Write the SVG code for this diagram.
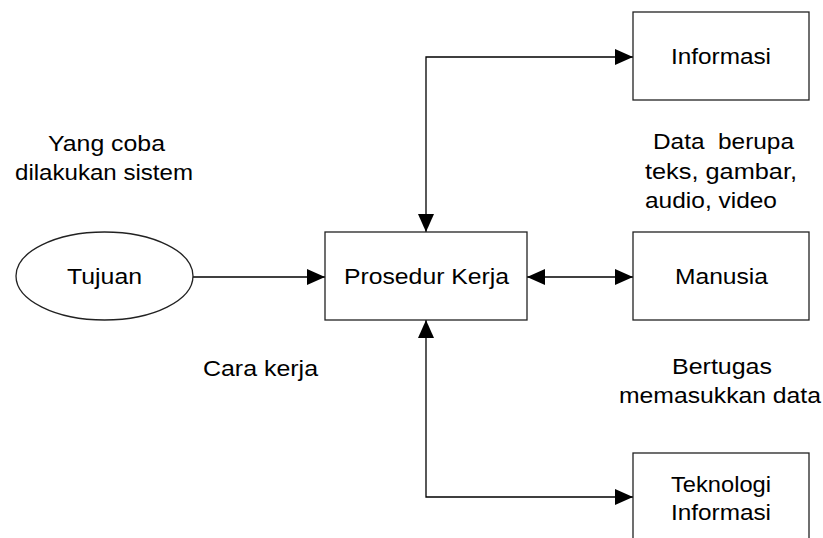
<svg xmlns="http://www.w3.org/2000/svg" width="823" height="538" viewBox="0 0 823 538">
<defs>
<marker id="ah" markerUnits="userSpaceOnUse" markerWidth="18" markerHeight="16" refX="18" refY="8" orient="auto-start-reverse" viewBox="0 0 18 16">
<path d="M0,0 L18,8 L0,16 Z" fill="#000"/>
</marker>
<style>
.box{fill:#fff;stroke:#222;stroke-width:1.3}
.t{font-family:"Liberation Sans",Arial,sans-serif;font-size:22.5px;fill:#000}
.c{text-anchor:middle}
.ln{fill:none;stroke:#000;stroke-width:1.3}
</style>
</defs>
<rect width="823" height="538" fill="#fff"/>
<g id="connectors">
<line class="ln" x1="193" y1="277" x2="325" y2="277" marker-end="url(#ah)"/>
<line class="ln" x1="527" y1="277" x2="633" y2="277" marker-start="url(#ah)" marker-end="url(#ah)"/>
<path class="ln" d="M426,232 L426,57 L633,57" marker-start="url(#ah)" marker-end="url(#ah)"/>
<path class="ln" d="M426,320 L426,497 L633,497" marker-start="url(#ah)" marker-end="url(#ah)"/>
</g>
<g id="tujuan">
<ellipse cx="104.5" cy="276" rx="88.5" ry="44" fill="#fff" stroke="#222" stroke-width="1.3"/>
<text class="t c" x="104.5" y="284" textLength="75" lengthAdjust="spacingAndGlyphs">Tujuan</text>
</g>
<g id="prosedur">
<rect class="box" x="325" y="232" width="202" height="88"/>
<text class="t c" x="426.5" y="284" textLength="165" lengthAdjust="spacingAndGlyphs">Prosedur Kerja</text>
</g>
<g id="informasi">
<rect class="box" x="633" y="12" width="176" height="88"/>
<text class="t c" x="721" y="64" textLength="100" lengthAdjust="spacingAndGlyphs">Informasi</text>
</g>
<g id="manusia">
<rect class="box" x="633" y="232" width="176" height="88"/>
<text class="t c" x="721.5" y="284" textLength="93" lengthAdjust="spacingAndGlyphs">Manusia</text>
</g>
<g id="teknologi">
<rect class="box" x="633" y="453" width="176" height="100"/>
<text class="t c" x="721" y="492" textLength="100" lengthAdjust="spacingAndGlyphs">Teknologi</text>
<text class="t c" x="721" y="520" textLength="100" lengthAdjust="spacingAndGlyphs">Informasi</text>
</g>
<g id="labels">
<text class="t c" x="106.5" y="151" textLength="117" lengthAdjust="spacingAndGlyphs">Yang coba</text>
<text class="t c" x="104" y="180" textLength="178" lengthAdjust="spacingAndGlyphs">dilakukan sistem</text>
<text class="t" x="653" y="149" xml:space="preserve" textLength="141" lengthAdjust="spacingAndGlyphs">Data  berupa</text>
<text class="t" x="645" y="179" textLength="152" lengthAdjust="spacingAndGlyphs">teks, gambar,</text>
<text class="t" x="645" y="208" textLength="132" lengthAdjust="spacingAndGlyphs">audio, video</text>
<text class="t c" x="260.5" y="376" textLength="115" lengthAdjust="spacingAndGlyphs">Cara kerja</text>
<text class="t c" x="722" y="374" textLength="100" lengthAdjust="spacingAndGlyphs">Bertugas</text>
<text class="t c" x="720" y="403" textLength="202" lengthAdjust="spacingAndGlyphs">memasukkan data</text>
</g>
</svg>
